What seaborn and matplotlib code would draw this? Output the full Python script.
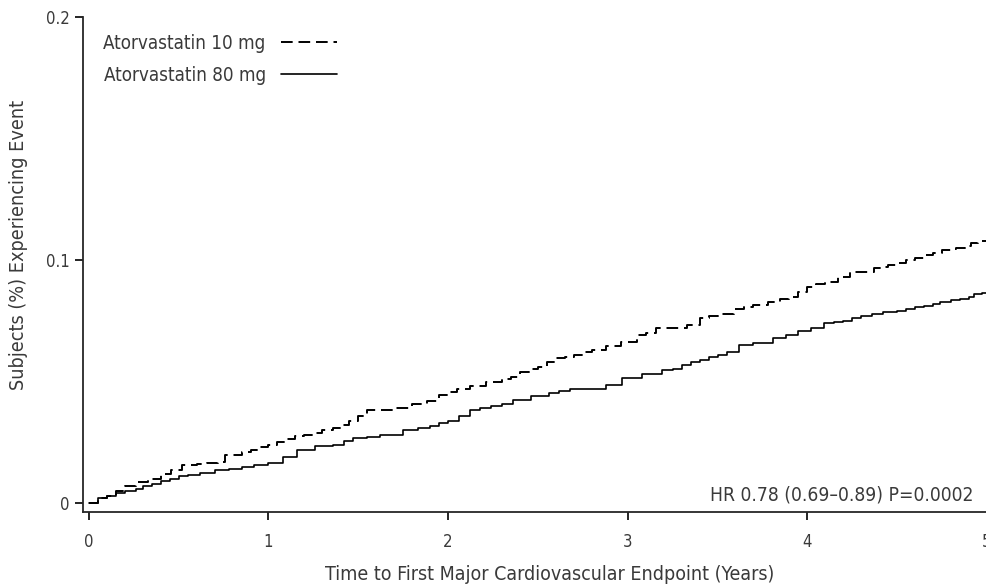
import pandas as pd
import matplotlib
matplotlib.use("Agg")
import matplotlib.pyplot as plt
import seaborn as sns

# Atorvastatin 10 mg (dashed), step knots
t10 = [0, 0.05, 0.1, 0.15, 0.2, 0.26, 0.33, 0.4, 0.46, 0.52, 0.6, 0.66, 0.72, 0.76,
       0.85, 0.9, 0.95, 1.0, 1.05, 1.1, 1.15, 1.2, 1.25, 1.3, 1.36, 1.41, 1.45, 1.5,
       1.55, 1.71, 1.8, 1.88, 1.95, 2.0, 2.05, 2.12, 2.21, 2.3, 2.35, 2.4, 2.45, 2.5,
       2.55, 2.6, 2.65, 2.7, 2.75, 2.8, 2.88, 2.96, 3.05, 3.1, 3.16, 3.33, 3.4, 3.45,
       3.5, 3.59, 3.65, 3.7, 3.78, 3.85, 3.9, 3.95, 4.0, 4.05, 4.1, 4.17, 4.24, 4.37,
       4.42, 4.45, 4.5, 4.55, 4.6, 4.65, 4.7, 4.75, 4.8, 4.83, 4.88, 4.91, 4.95, 5.0]
y10 = [0, 0.002, 0.003, 0.005, 0.007, 0.0086, 0.010, 0.012, 0.0135, 0.0156, 0.016,
       0.0165, 0.0169, 0.0198, 0.021, 0.022, 0.023, 0.024, 0.025, 0.0263, 0.0276, 0.028,
       0.029, 0.030, 0.031, 0.032, 0.034, 0.036, 0.0383, 0.039, 0.041, 0.042, 0.0444,
       0.0456, 0.047, 0.048, 0.0498, 0.051, 0.052, 0.0539, 0.055, 0.056, 0.058, 0.0597,
       0.060, 0.061, 0.062, 0.063, 0.0645, 0.0663, 0.069, 0.070, 0.072, 0.0733, 0.076,
       0.077, 0.078, 0.080, 0.0807, 0.0815, 0.0827, 0.084, 0.085, 0.087, 0.0889, 0.090,
       0.091, 0.093, 0.095, 0.0967, 0.097, 0.098, 0.099, 0.100, 0.101, 0.102, 0.103,
       0.104, 0.1045, 0.105, 0.106, 0.107, 0.108, 0.1095]

# Atorvastatin 80 mg (solid)
t80 = [0, 0.05, 0.1, 0.15, 0.2, 0.26, 0.3, 0.35, 0.4, 0.45, 0.5, 0.55, 0.62, 0.7,
       0.78, 0.85, 0.92, 1.0, 1.08, 1.16, 1.26, 1.36, 1.42, 1.47, 1.55, 1.62, 1.75,
       1.83, 1.9, 1.95, 2.0, 2.06, 2.12, 2.18, 2.24, 2.3, 2.36, 2.46, 2.56, 2.62, 2.68,
       2.88, 2.97, 3.08, 3.19, 3.25, 3.3, 3.35, 3.4, 3.45, 3.5, 3.55, 3.62, 3.7, 3.81,
       3.88, 3.95, 4.02, 4.09, 4.15, 4.2, 4.25, 4.3, 4.36, 4.42, 4.5, 4.55, 4.6, 4.65,
       4.7, 4.74, 4.8, 4.85, 4.9, 4.93, 4.97, 5.0]
y80 = [0, 0.002, 0.003, 0.004, 0.005, 0.006, 0.007, 0.008, 0.009, 0.010, 0.011,
       0.0115, 0.0125, 0.0136, 0.014, 0.015, 0.0157, 0.0165, 0.019, 0.022, 0.0235,
       0.024, 0.0255, 0.0267, 0.0272, 0.028, 0.030, 0.031, 0.0317, 0.033, 0.034, 0.036,
       0.0383, 0.039, 0.040, 0.041, 0.0424, 0.044, 0.0453, 0.046, 0.0469, 0.0486, 0.0514,
       0.053, 0.0547, 0.055, 0.057, 0.058, 0.059, 0.060, 0.0609, 0.062, 0.065, 0.066,
       0.0679, 0.069, 0.071, 0.072, 0.074, 0.0745, 0.075, 0.076, 0.077, 0.078, 0.0786,
       0.079, 0.080, 0.0805, 0.081, 0.082, 0.0827, 0.0835, 0.084, 0.085, 0.086, 0.0865,
       0.0877]

xticks = [0, 1, 2, 3, 4, 5]
yticks = [0, 0.1, 0.2]
ytick_labels = ["0", "0.1", "0.2"]

sns.set_style("ticks")
plt.rcParams["font.family"] = ["DejaVu Sans"]
plt.rcParams["font.stretch"] = "condensed"
grey = "#3a3a3a"

fig = plt.figure(figsize=(9.87, 5.88), dpi=100)
ax = fig.add_axes([0.084, 0.129, 0.916, 0.842])

d10 = pd.DataFrame({"t": t10, "y": y10})
d80 = pd.DataFrame({"t": t80, "y": y80})
sns.lineplot(data=d10, x="t", y="y", ax=ax, color="black", lw=1.4,
             drawstyle="steps-post", linestyle=(0, (6, 3)),
             label="Atorvastatin 10 mg")
sns.lineplot(data=d80, x="t", y="y", ax=ax, color="black", lw=1.2,
             drawstyle="steps-post", label="Atorvastatin 80 mg")

ax.set_xlim(-0.033, 5.0)
ax.set_ylim(-0.0037, 0.2)
ax.set_xticks(xticks)
ax.set_yticks(yticks)
ax.set_yticklabels(ytick_labels)
ax.tick_params(axis="both", direction="out", length=6, width=1.2,
               labelsize=12, labelcolor=grey, colors="black")
ax.tick_params(axis="x", pad=9)
sns.despine(ax=ax)
ax.spines["left"].set_linewidth(1.3)
ax.spines["bottom"].set_linewidth(1.3)

ax.set_xlabel("Time to First Major Cardiovascular Endpoint (Years)",
              fontsize=14, color=grey)
ax.xaxis.set_label_coords(0.516, -0.107)
ax.set_ylabel("Subjects (%) Experiencing Event", fontsize=14.2, color=grey)
ax.yaxis.set_label_coords(-0.061, 0.54)

ax.text(0.985, 0.015, "HR 0.78 (0.69\u20130.89) P=0.0002", transform=ax.transAxes,
        ha="right", va="bottom", fontsize=13.8, color=grey)

leg = ax.legend(loc="upper left", bbox_to_anchor=(0.004, 1.0), frameon=False,
                markerfirst=False, handlelength=3.0, fontsize=13.5,
                labelspacing=0.7)
for t in leg.get_texts():
    t.set_color(grey)

plt.savefig("out.png", dpi=100)
